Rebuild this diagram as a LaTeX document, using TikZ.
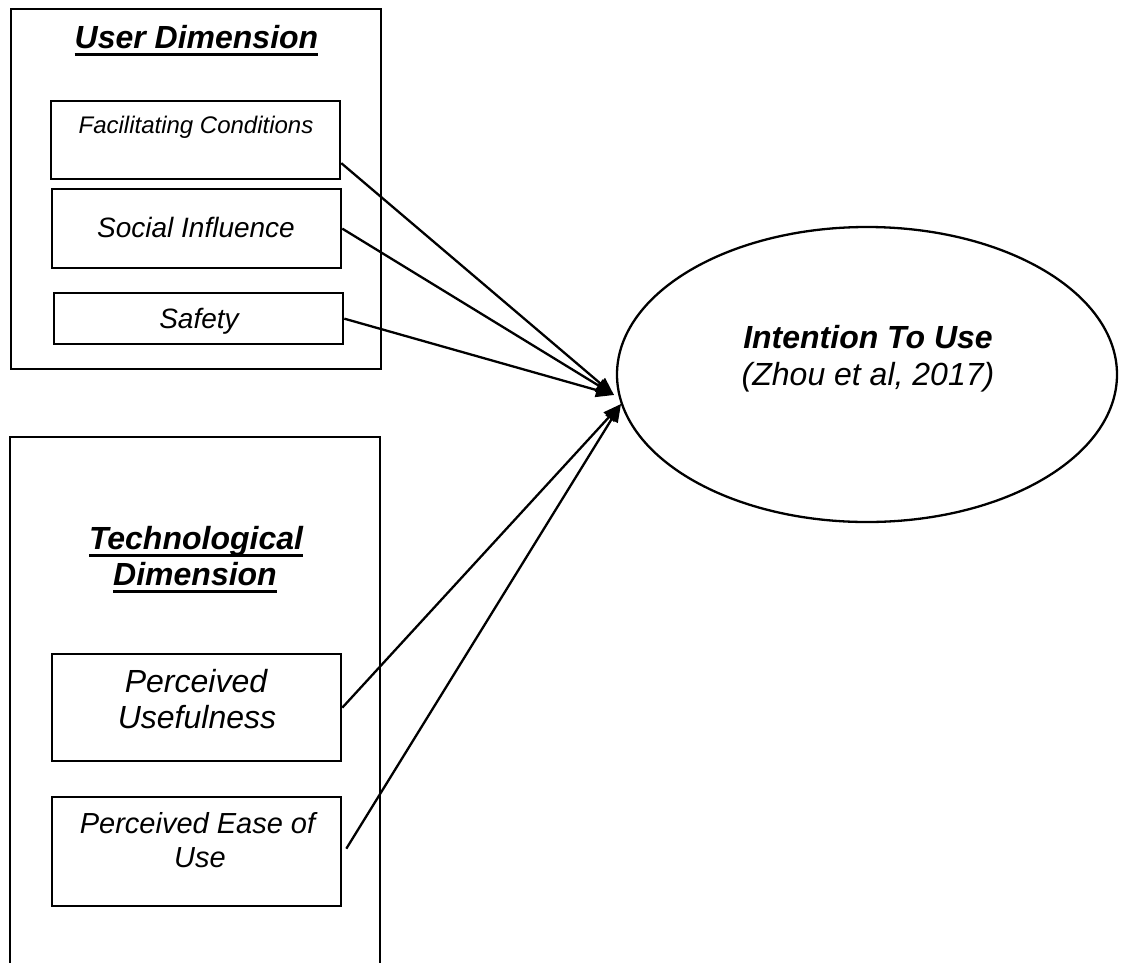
\documentclass[tikz,border=0pt]{standalone}
\usepackage{fontspec}
\setmainfont{Liberation Sans}
\usetikzlibrary{arrows.meta,calc,shapes.geometric}
\newcommand\myul[1]{\setbox0\hbox{#1}\rlap{\rule[-8pt]{\wd0}{2.8pt}}\box0}
\tikzset{
  box/.style={draw,line width=2.3pt,minimum width=289pt,anchor=north west,inner sep=0pt},
  txt/.style={anchor=base,inner sep=0pt,font=\itshape},
  ttl/.style={anchor=base,inner sep=0pt,font=\bfseries\itshape\fontsize{32}{36}\selectfont},
  arr/.style={line width=2.3pt,-{Triangle[length=18pt,width=14pt]}}
}
\begin{document}
\begin{tikzpicture}[x=1pt,y=-1pt]
\useasboundingbox (0,0) rectangle (1122,962);
% user dimension
\node[box,minimum width=370pt,minimum height=360pt] (ubox) at (10,8) {};
\node[ttl] (ut) at (196.5,48) {\myul{User Dimension}};
\node[box,minimum height=78pt] (fc) at (50,100) {};
\node[txt,font=\itshape\fontsize{24}{28}\selectfont] (fct) at (196,133) {Facilitating Conditions};
\node[box,minimum height=79pt] (si) at (51,188) {};
\node[txt,font=\itshape\fontsize{28}{32}\selectfont] (sit) at (196,237) {Social Influence};
\node[box,minimum height=51pt] (sa) at (53,292) {};
\node[txt,font=\itshape\fontsize{28}{32}\selectfont] (sat) at (199,328) {Safety};
% technological dimension
\draw[line width=2.3pt] (10,975) -- (10,437) -- (380,437) -- (380,975);
\node[ttl] (tt1) at (196,549) {\myul{Technological}};
\node[ttl] (tt2) at (195,585) {\myul{Dimension}};
\node[box,minimum height=107pt] (pu) at (51,653) {};
\node[txt,font=\itshape\fontsize{32}{36}\selectfont] (put1) at (196,692) {Perceived};
\node[txt,font=\itshape\fontsize{32}{36}\selectfont] (put2) at (197,728) {Usefulness};
\node[box,minimum height=109pt] (pe) at (51,796) {};
\node[txt,font=\itshape\fontsize{29}{33}\selectfont] (pet1) at (197.5,833) {Perceived Ease of};
\node[txt,font=\itshape\fontsize{29}{33}\selectfont] (pet2) at (200,867) {Use};
% intention
\node[draw,ellipse,line width=2.3pt,minimum width=500pt,minimum height=295pt,inner sep=0pt] (itu) at (867,374.5) {};
\node[ttl,font=\bfseries\itshape\fontsize{32}{36}\selectfont] (itut) at (868,348) {Intention To Use};
\node[txt,font=\itshape\fontsize{32}{36}\selectfont] (itus) at (868,385) {(Zhou et al, 2017)};
\coordinate (tipA) at (614,395);
\coordinate (tipB) at (621,404);
% arrows
\draw[arr] ($(fc.east)+(0,23)$) -- (tipA);
\draw[arr] (si.east) -- (tipA);
\draw[arr] (sa.east) -- (tipA);
\draw[arr] (pu.east) -- (tipB);
\draw[arr] ($(pe.east)+(4,-3)$) -- (tipB);
\end{tikzpicture}
\end{document}
